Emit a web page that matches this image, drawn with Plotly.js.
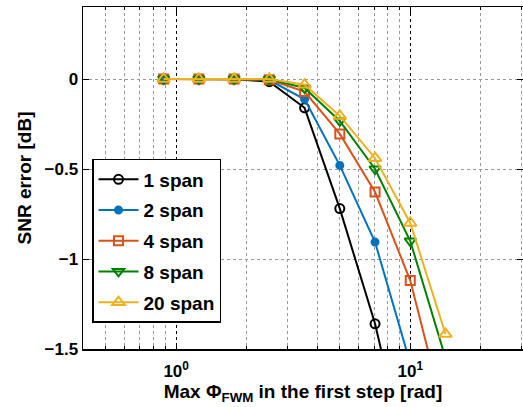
<!DOCTYPE html>
<html>
<head>
<meta charset="utf-8">
<script src="https://cdn.plot.ly/plotly-3.0.1.min.js"></script>
<style>html,body{margin:0;padding:0;background:#fff;overflow:hidden;}</style>
</head>
<body>
<div id="chart" style="width:523px;height:407px;"></div>
<script>
// Max Phi_FWM in the first step [rad]
const phiMax = [0.884, 1.25, 1.768, 2.5, 3.536, 5, 7.071, 10, 14.14];
const seriesNames = ['1 span', '2 span', '4 span', '8 span', '20 span'];
const span1 = [0, 0, 0, -0.015, -0.16, -0.72, -1.36, -2.2];
const span2 = [0, 0, 0, -0.006, -0.113, -0.48, -0.906, -1.58];
const span4 = [0, 0, 0, -0.004, -0.07, -0.305, -0.628, -1.12, -1.89];
const span8 = [0, 0, 0, -0.002, -0.05, -0.233, -0.50, -0.90, -1.55];
const span20 = [0, 0, 0, 0, -0.032, -0.205, -0.44, -0.80, -1.417];
const yTickVals = [-1.5, -1, -0.5, 0];
const yTickText = ['\u22121.5', '\u22121', '\u22120.5', '0'];
const xTickVals = [1, 10];
const xTickText = ['10<sup>0</sup>', '10<sup>1</sup>'];

const colors = ['#000000', '#0072BD', '#D95319', '#008000', '#EDB120'];
const symbols = ['circle-open', 'circle', 'square-open', 'triangle-down-open', 'triangle-up-open'];
const sizes = [9, 7, 9, 10, 11];
const allY = [span1, span2, span4, span8, span20];

const traces = allY.map((ys, i) => ({
  x: phiMax.slice(0, ys.length),
  y: ys,
  name: seriesNames[i],
  legendgroup: 'g' + i,
  type: 'scatter',
  mode: 'lines+markers',
  line: {color: colors[i], width: 2},
  marker: {symbol: symbols[i], size: sizes[i], color: colors[i], line: {color: colors[i], width: 2}},
  cliponaxis: true
}));

const fam = 'Liberation Sans, Arial, sans-serif';
const tickFont = {family: fam, size: 17, color: '#000', weight: 'bold'};
const titleFont = {family: fam, size: 19, color: '#000', weight: 'bold'};

const layout = {
  width: 523, height: 407,
  margin: {l: 83, r: 0, t: 7, b: 58},
  paper_bgcolor: '#fff', plot_bgcolor: '#fff',
  font: tickFont,
  showlegend: true,
  legend: {
    x: 0.0205, y: 0.5556, xanchor: 'left', yanchor: 'top',
    bordercolor: '#000', borderwidth: 1.5, bgcolor: '#fff',
    font: {family: fam, size: 19, color: '#000', weight: 'bold'},
    itemwidth: 40,
    tracegroupgap: 3
  },
  xaxis: {
    type: 'log',
    range: [Math.log10(0.4), Math.log10(30.3)],
    tickvals: xTickVals, ticktext: xTickText,
    ticks: 'inside', ticklen: 6, tickwidth: 1, tickcolor: '#000',
    ticklabelstandoff: 6,
    showline: true, linecolor: '#000', linewidth: 1.5, mirror: 'ticks',
    showgrid: true, gridcolor: '#000', griddash: 'dot', gridwidth: 1,
    zeroline: false,
    minor: {dtick: 'D1', ticks: 'inside', ticklen: 3, tickcolor: '#000', showgrid: true, gridcolor: '#999', griddash: 'dot', gridwidth: 1},
    tickfont: tickFont,
    title: {text: 'Max \u03A6<sub>FWM</sub> in the first step [rad]', font: titleFont, standoff: 2}
  },
  yaxis: {
    range: [-1.5, 0.4],
    tickvals: yTickVals, ticktext: yTickText,
    ticks: 'inside', ticklen: 6, tickwidth: 1, tickcolor: '#000',
    showline: true, linecolor: '#000', linewidth: 1.5, mirror: 'ticks',
    showgrid: true, gridcolor: '#999', griddash: 'dot', gridwidth: 1,
    zeroline: false,
    tickfont: tickFont,
    title: {text: 'SNR error [dB]', font: titleFont, standoff: 8}
  }
};

Plotly.newPlot('chart', traces, layout, {displayModeBar: false, staticPlot: true});
</script>
</body>
</html>
